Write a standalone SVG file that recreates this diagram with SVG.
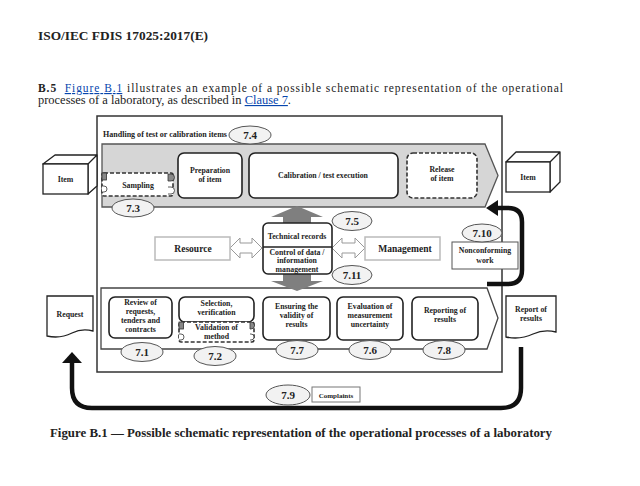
<svg xmlns="http://www.w3.org/2000/svg" width="640" height="486" viewBox="0 0 640 486">
<style>
text{font-family:"Liberation Serif","DejaVu Serif",serif;font-weight:bold;fill:#222}
.s{font-size:7.8px;text-anchor:middle}
.num{font-size:11px;text-anchor:middle}
.box{fill:#fff;stroke:#222;stroke-width:1.6}
.dash{fill:#fff;stroke:#333;stroke-width:1.6;stroke-dasharray:4 2}
.ell{fill:#f2f2f2;stroke:#555;stroke-width:1}
.lgt{fill:#fff;stroke:#bbb;stroke-width:1.5}
.dbl{fill:#fff;stroke:#999;stroke-width:1}
.gar{fill:#7f7f7f}
.thick{fill:none;stroke:#111;stroke-width:4.5}
.lnk{fill:#0645ad;text-decoration:underline;font-weight:normal}
</style>
<rect width="640" height="486" fill="#fff"/>
<text x="38" y="40" font-size="13" textLength="170" lengthAdjust="spacingAndGlyphs">ISO/IEC FDIS 17025:2017(E)</text>
<text x="38" y="92" font-size="11.5" textLength="525" lengthAdjust="spacing"><tspan>B.5</tspan><tspan font-weight="normal" xml:space="preserve">  </tspan><tspan class="lnk">Figure B.1</tspan><tspan font-weight="normal"> illustrates an example of a possible schematic representation of the operational</tspan></text>
<text x="38" y="104" font-size="11.5" style="font-weight:normal" textLength="253" lengthAdjust="spacingAndGlyphs">processes of a laboratory, as described in <tspan class="lnk">Clause 7</tspan>.</text>

<g id="frame">
<rect x="97" y="116" width="405" height="256" fill="none" stroke="#333" stroke-width="1.5"/>
<text x="103" y="137" font-size="7.8" textLength="124" lengthAdjust="spacingAndGlyphs">Handling of test or calibration items</text>
</g>

<g id="top-band">
<path d="M102 144 H485 L498 175.5 L485 207 H102 Z" fill="#d6d6d6" stroke="#555" stroke-width="1.3"/>
</g>
<g id="bottom-band">
<path d="M101 288 H487 L498 318 L487 349 H101 Z" fill="#fff" stroke="#444" stroke-width="1.3"/>
</g>

<g id="connectors">
<path class="gar" d="M297 206 L323 217 H311 V223 H283 V217 H271 Z"/>
<path class="gar" d="M283 274 H311 V281 H323 L297 291 L271 281 H283 Z"/>
<path class="dbl" d="M230 248 L240 238 V243 H252 V238 L262 248 L252 258 V253 H240 V258 Z"/>
<path class="dbl" d="M332 248 L342 238 V243 H355 V238 L365 248 L355 258 V253 H342 V258 Z"/>
<path class="thick" d="M487 284 H508 Q522 284 522 270 V222 Q522 208 508 208 H496"/>
<polygon points="498,200 486,208 498,216" fill="#111"/>
<path class="thick" d="M521 347 V388 Q521 408 501 408 H92 Q72 408 72 388 V361"/>
<polygon points="62,363 72,352 82,363" fill="#111"/>
</g>

<g id="ell-7-4"><ellipse class="ell" cx="250" cy="135" rx="21" ry="9"/><text class="num" x="250" y="139">7.4</text></g>

<g id="item-left">
<path d="M43 164 L55 155 H97 L88 164 Z M88 164 L97 155 V186 L88 194 Z" fill="#fff" stroke="#222" stroke-width="1.3" stroke-linejoin="round"/>
<rect x="43" y="164" width="45" height="30" fill="#fff" stroke="#222" stroke-width="1.3"/>
<text class="s" x="65.5" y="182">Item</text>
</g>
<g id="item-right">
<path d="M506 162 L516 152 H560 L550 162 Z M550 162 L560 152 V182 L550 192 Z" fill="#fff" stroke="#222" stroke-width="1.3" stroke-linejoin="round"/>
<rect x="506" y="162" width="44" height="30" fill="#fff" stroke="#222" stroke-width="1.3"/>
<text class="s" x="528" y="180">Item</text>
</g>

<g id="sampling">
<rect class="dash" x="102" y="173" width="71" height="23" rx="2"/>
<rect x="102" y="173" width="4.5" height="7" fill="#888" stroke="#333" stroke-width="0.8"/>
<path d="M168 174 H171 A3.5 3.5 0 0 1 171 181 H168 Z" fill="#888" stroke="#333" stroke-width="0.8"/>
<path d="M102 186 H104 A3 3 0 0 1 104 192 H102" fill="#fff" stroke="#333" stroke-width="0.8"/>
<path d="M168 187 H171 A3.5 3.5 0 0 1 171 194 H168" fill="#fff" stroke="#333" stroke-width="0.8"/>
<text class="s" x="138" y="188">Sampling</text>
</g>
<g id="ell-7-3"><ellipse class="ell" cx="133" cy="208" rx="21" ry="9"/><text class="num" x="133" y="212">7.3</text></g>

<g id="preparation"><rect class="box" x="178" y="153" width="64" height="45" rx="6"/><text class="s" x="210" y="173">Preparation</text><text class="s" x="210" y="182">of item</text></g>
<g id="calibration"><rect class="box" x="249" y="153" width="149" height="45" rx="6"/><text class="s" x="323" y="178">Calibration / test execution</text></g>
<g id="release"><rect class="dash" x="407" y="153" width="70" height="45" rx="6"/><text class="s" x="442" y="172">Release</text><text class="s" x="442" y="181">of item</text></g>

<g id="resource"><rect class="lgt" x="155" y="237" width="75" height="23"/><text x="193" y="252" font-size="9.5" text-anchor="middle">Resource</text></g>
<g id="management"><rect class="lgt" x="365" y="237" width="75" height="23"/><text x="405" y="252" font-size="9.5" text-anchor="middle">Management</text></g>

<g id="records">
<rect class="box" x="263" y="223" width="69" height="51" rx="5"/>
<line x1="263" y1="247" x2="332" y2="247" stroke="#222" stroke-width="1.4"/>
<text class="s" x="297" y="238.5">Technical records</text>
<text class="s" x="297" y="254.5">Control of data /</text>
<text class="s" x="297" y="263">information</text>
<text class="s" x="297" y="271.5">management</text>
</g>
<g id="ell-7-5"><ellipse class="ell" cx="352" cy="221" rx="20" ry="9.5"/><text class="num" x="352" y="225">7.5</text></g>
<g id="ell-7-11"><ellipse class="ell" cx="352" cy="275" rx="20" ry="9.5"/><text class="num" x="352" y="279">7.11</text></g>

<g id="nonconforming">
<rect x="452" y="242" width="66" height="27" fill="#fff" stroke="#555" stroke-width="1"/>
<text class="s" x="485" y="253">Nonconforming</text><text class="s" x="485" y="263">work</text>
</g>
<g id="ell-7-10"><ellipse class="ell" cx="482" cy="233" rx="20" ry="9"/><text class="num" x="482" y="237">7.10</text></g>

<g id="request">
<path d="M47 296 H93 V331 Q82 328 72 333 Q60 339 47 336 Z" fill="#fff" stroke="#222" stroke-width="1.3"/>
<text class="s" x="70" y="317">Request</text>
</g>
<g id="report">
<path d="M506 296 H556 V332 Q544 329 533 334 Q520 340 506 337 Z" fill="#fff" stroke="#222" stroke-width="1.3"/>
<text class="s" x="531" y="312">Report of</text><text class="s" x="531" y="321">results</text>
</g>

<g id="review"><rect class="box" x="109" y="297" width="63" height="41" rx="6"/><text class="s" x="140.5" y="305">Review of</text><text class="s" x="140.5" y="314">requests,</text><text class="s" x="140.5" y="323">tenders and</text><text class="s" x="140.5" y="332">contracts</text></g>
<g id="ell-7-1"><ellipse class="ell" cx="142" cy="352" rx="21" ry="9.5"/><text class="num" x="142" y="356">7.1</text></g>

<g id="selection"><rect class="box" x="179" y="297" width="75" height="25" rx="6"/><text class="s" x="216.5" y="306">Selection,</text><text class="s" x="216.5" y="315">verification</text></g>
<g id="validation">
<rect class="dash" x="179" y="322" width="75" height="20" rx="2"/>
<rect x="179" y="322" width="4.5" height="7" fill="#888" stroke="#333" stroke-width="0.8"/>
<path d="M250 322 H251 A3.5 3.5 0 0 1 251 329 H250 Z" fill="#888" stroke="#333" stroke-width="0.8"/>
<path d="M179 334 H181 A3 3 0 0 1 181 340 H179" fill="#fff" stroke="#333" stroke-width="0.8"/>
<path d="M250 334 H251 A3 3 0 0 1 251 340 H250" fill="#fff" stroke="#333" stroke-width="0.8"/>
<text class="s" x="216.5" y="330">Validation of</text><text class="s" x="216.5" y="339">method</text>
</g>
<g id="ell-7-2"><ellipse class="ell" cx="215" cy="356" rx="21" ry="9.5"/><text class="num" x="215" y="360">7.2</text></g>

<g id="ensuring"><rect class="box" x="263" y="297" width="67" height="43" rx="6"/><text class="s" x="296.5" y="309">Ensuring the</text><text class="s" x="296.5" y="318">validity of</text><text class="s" x="296.5" y="327">results</text></g>
<g id="ell-7-7"><ellipse class="ell" cx="297" cy="350" rx="21" ry="9.5"/><text class="num" x="297" y="354">7.7</text></g>
<g id="evaluation"><rect class="box" x="337" y="297" width="66" height="43" rx="6"/><text class="s" x="370" y="309">Evaluation of</text><text class="s" x="370" y="318">measurement</text><text class="s" x="370" y="327">uncertainty</text></g>
<g id="ell-7-6"><ellipse class="ell" cx="370" cy="350" rx="21" ry="9.5"/><text class="num" x="370" y="354">7.6</text></g>
<g id="reporting"><rect class="box" x="412" y="297" width="66" height="43" rx="6"/><text class="s" x="445" y="313">Reporting of</text><text class="s" x="445" y="322">results</text></g>
<g id="ell-7-8"><ellipse class="ell" cx="444" cy="350" rx="21" ry="9.5"/><text class="num" x="444" y="354">7.8</text></g>

<g id="complaints">
<ellipse class="ell" cx="288" cy="395" rx="22" ry="10"/><text class="num" x="288" y="399">7.9</text>
<rect x="312" y="387" width="48" height="15" fill="#fff" stroke="#777" stroke-width="1"/>
<text x="336" y="397.5" font-size="7" text-anchor="middle">Complaints</text>
</g>

<text x="50" y="437" font-size="12" textLength="502" lengthAdjust="spacingAndGlyphs">Figure B.1 — Possible schematic representation of the operational processes of a laboratory</text>
</svg>
